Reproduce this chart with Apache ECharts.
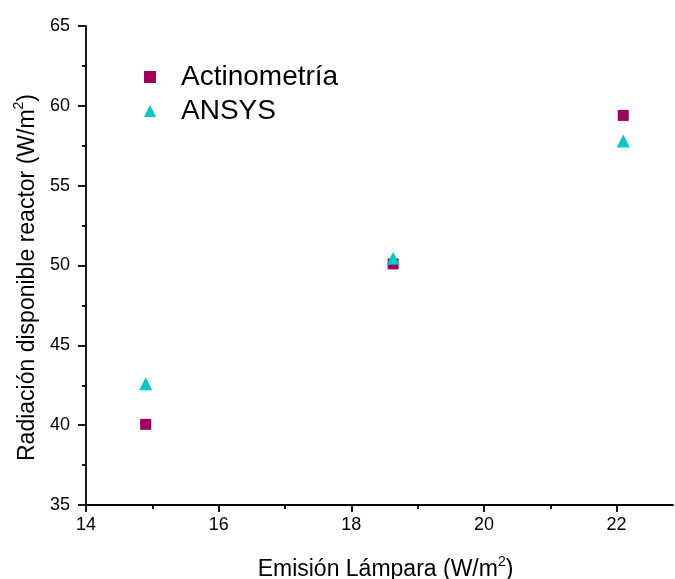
<!DOCTYPE html>
<html><head><meta charset="utf-8">
<script src="https://cdn.jsdelivr.net/npm/echarts@6/dist/echarts.min.js"></script>
<style>html,body{margin:0;padding:0;background:#fff}#c{width:675px;height:579px}</style>
</head><body><div id="c"></div>
<script>
const seriesNames = ['Actinometría', 'ANSYS'];
const emisionX = [14.9, 18.63, 22.1];
const actinometria = [40.05, 50.1, 59.4];
const ansys = [42.6, 50.45, 57.8];
const xTicks = [14, 16, 18, 20, 22];
const xMinorTicks = [15, 17, 19, 21];

const font = 'Liberation Sans, Arial, sans-serif';
const cSq = '#A0005A', cTri = '#00C8C8';
const chart = echarts.init(document.getElementById('c'));
const axisLine = {show: true, lineStyle: {color: '#000', width: 1.8}};
const tickStyle = {color: '#000', width: 1.8};
chart.setOption({
  animation: false,
  grid: {left: 86, top: 26, right: 2, bottom: 74, outerBoundsMode: 'none', containLabel: false},
  legend: {
    orient: 'vertical', left: 139, top: 58, itemGap: 6,
    itemWidth: 12, itemHeight: 12,
    textStyle: {fontFamily: font, fontSize: 28, color: '#000', padding: [0, 0, 0, 20]},
    data: [
      {name: seriesNames[0], icon: 'rect', itemStyle: {color: cSq, opacity: 1}},
      {name: seriesNames[1], icon: 'triangle', itemStyle: {color: cTri, opacity: 1}}
    ]
  },
  xAxis: [{
    type: 'value', min: 14, max: 22.85, interval: 2,
    axisLine: axisLine,
    axisTick: {show: true, length: 7, lineStyle: tickStyle, customValues: xTicks},
    axisLabel: {customValues: xTicks, color: '#000', fontFamily: font, fontSize: 18, margin: 11},
    splitLine: {show: false},
    name: '{a|Emisión Lámpara (W/m}{s|2}{a|)}',
    nameLocation: 'middle', nameGap: 50,
    nameTextStyle: {padding: [0, 0, 0, 12], rich: {
      a: {fontFamily: font, fontSize: 23, color: '#000'},
      s: {fontFamily: font, fontSize: 14, color: '#000', verticalAlign: 'top', padding: [0, 0, 16, 0]}
    }}
  }, {
    type: 'value', min: 14, max: 22.85, position: 'bottom',
    axisLine: {show: false},
    axisTick: {show: true, length: 4, lineStyle: tickStyle, customValues: xMinorTicks},
    axisLabel: {show: false}, splitLine: {show: false}
  }],
  yAxis: {
    type: 'value', min: 35, max: 65, interval: 5,
    axisLine: axisLine,
    axisTick: {show: true, length: 8, lineStyle: tickStyle},
    minorTick: {show: true, splitNumber: 2, length: 4, lineStyle: tickStyle},
    axisLabel: {color: '#000', fontFamily: font, fontSize: 18, margin: 16},
    splitLine: {show: false},
    name: '{a|Radiación disponible reactor (W/m}{s|2}{a|)}',
    nameLocation: 'middle', nameGap: 43,
    nameTextStyle: {padding: [0, 24, 0, 0], rich: {
      a: {fontFamily: font, fontSize: 23, color: '#000'},
      s: {fontFamily: font, fontSize: 14, color: '#000', verticalAlign: 'top', padding: [0, 0, 16, 0]}
    }}
  },
  series: [
    {name: seriesNames[0], type: 'scatter', symbol: 'rect', symbolSize: 11,
     itemStyle: {color: cSq, opacity: 1},
     data: emisionX.map((x, i) => [x, actinometria[i]])},
    {name: seriesNames[1], type: 'scatter', symbol: 'triangle', symbolSize: 13,
     itemStyle: {color: cTri, opacity: 1},
     data: emisionX.map((x, i) => [x, ansys[i]])}
  ]
});
</script></body></html>
